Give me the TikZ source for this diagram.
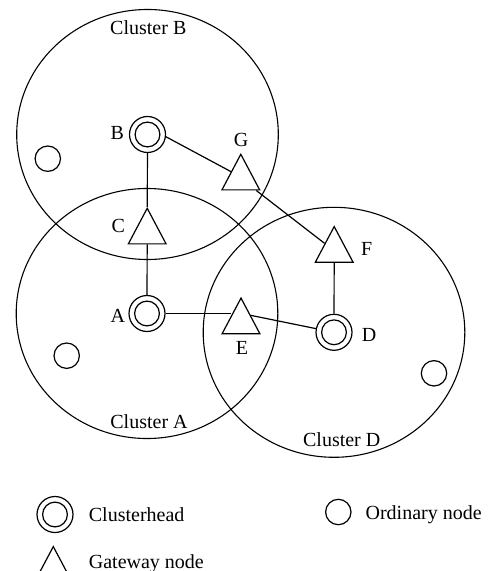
\documentclass[tikz,border=0pt]{standalone}
\usepackage{fontspec}
\setmainfont{Liberation Serif}
\usetikzlibrary{shapes.geometric}
\begin{document}
\begin{tikzpicture}[x=0.5pt,y=-0.5pt,line width=0.6pt,
  clhead/.style={circle,draw,minimum size=18pt,inner sep=0pt,
    path picture={\draw (path picture bounding box.center) circle[radius=6.2pt];}},
  gateway/.style={isosceles triangle,shape border rotate=90,isosceles triangle stretches,
    minimum width=18.85pt,minimum height=17.8pt,inner sep=0pt,draw,anchor=apex},
  ordnode/.style={circle,draw,minimum size=12.7pt,inner sep=0pt},
  lbl/.style={inner sep=0pt,anchor=base,font=\fontsize{10pt}{12pt}\selectfont},
  legtxt/.style={inner sep=0pt,anchor=base west,font=\fontsize{10pt}{12pt}\selectfont},
  cluster/.style={draw,line width=0.55pt}]
\useasboundingbox (0,0) rectangle (496,571);
\clip (0,0) rectangle (496,571);
% clusterheads
\node[clhead] (B) at (147.5,134.5) {};
\node[clhead] (A) at (147,313.5) {};
\node[clhead] (D) at (334,332.3) {};
% cluster circles
\draw[cluster] (B.center) ellipse[x radius=130.8,y radius=125];
\draw[cluster] (A.center) ellipse[x radius=130.8,y radius=125];
\draw[cluster] (D.center) ellipse[x radius=130.8,y radius=125];
% gateways
\node[gateway] (G) at (240.8,152.7) {};
\node[gateway] (C) at (147.2,206.7) {};
\node[gateway] (E) at (241,296.5) {};
\node[gateway] (F) at (334.2,225) {};
% ordinary nodes
\node[ordnode] (o1) at (47.8,158.7) {};
\node[ordnode] (o2) at (66.7,355.7) {};
\node[ordnode] (o3) at (434,373.3) {};
% connectors
\draw (B) -- (C);
\draw (C) -- (A);
\draw (B.-7) -- (G.left side);
\draw (G) -- (F);
\draw (F) -- (D);
\draw (A.east) -- (A.east -| E.left side);
\draw (E.right side) -- (D);
% labels
\node[lbl] (lB) at (117.3,139.3) {B};
\node[lbl] (lC) at (118.3,232.7) {C};
\node[lbl] (lG) at (241,146.7) {G};
\node[lbl] (lA) at (117.8,322.7) {A};
\node[lbl] (lE) at (242,354) {E};
\node[lbl] (lF) at (366.7,256) {F};
\node[lbl] (lD) at (369,341) {D};
\node[lbl] (cB) at (148.3,35) {Cluster B};
\node[lbl] (cA) at (149,428.3) {Cluster A};
\node[lbl] (cD) at (341.7,446.7) {Cluster D};
% legend
\node[clhead] (legch) at (55,514.5) {};
\node[legtxt] (tch) at (88.3,521.7) {Clusterhead};
\node[ordnode] (legord) at (338.3,512) {};
\node[legtxt] (tord) at (365,519.5) {Ordinary node};
\node[gateway] (leggw) at (53.3,545) {};
\node[legtxt] (tgw) at (88.3,568.3) {Gateway node};
\end{tikzpicture}
\end{document}
